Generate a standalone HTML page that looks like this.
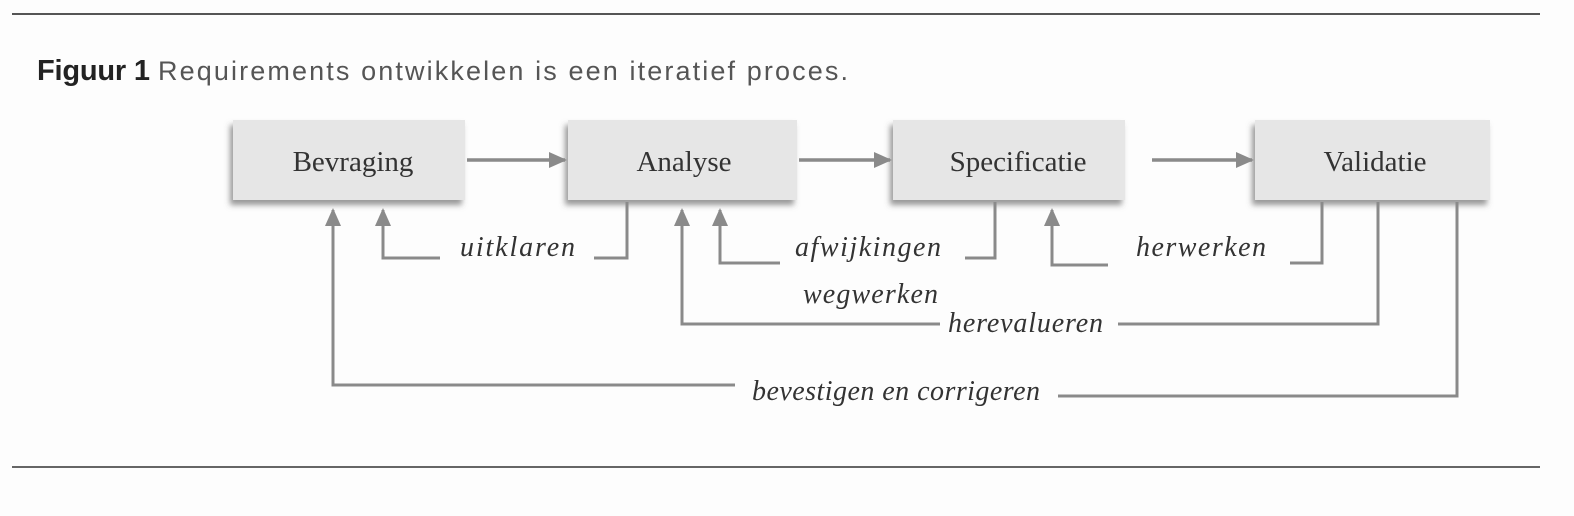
<!DOCTYPE html>
<html><head><meta charset="utf-8"><style>
html,body{margin:0;padding:0;background:#fdfdfd;width:1574px;height:516px;overflow:hidden}
</style></head><body>
<svg width="1574" height="516" xmlns="http://www.w3.org/2000/svg">
<defs>
<filter id="sh" x="-10%" y="-10%" width="130%" height="140%"><feDropShadow dx="-3" dy="5" stdDeviation="3" flood-color="#555" flood-opacity="0.6"/></filter>
<marker id="ah" markerWidth="18" markerHeight="16" refX="16" refY="8" orient="auto" markerUnits="userSpaceOnUse"><path d="M0,0 L18,8 L0,16 z" fill="#8a8a8a"/></marker>
</defs>
<line x1="12" y1="14" x2="1540" y2="14" stroke="#555" stroke-width="2"/>
<line x1="12" y1="467" x2="1540" y2="467" stroke="#666" stroke-width="2"/>
<text x="37" y="80" font-family="Liberation Sans, sans-serif" font-weight="bold" font-size="29" fill="#222" textLength="113">Figuur 1</text>
<text x="158" y="80" font-family="Liberation Sans, sans-serif" font-size="27" fill="#555" textLength="690">Requirements ontwikkelen is een iteratief proces.</text>
<g fill="#e6e6e6" filter="url(#sh)">
<rect x="233" y="120" width="232" height="80"/>
<rect x="568" y="120" width="229" height="80"/>
<rect x="893" y="120" width="232" height="80"/>
<rect x="1255" y="120" width="235" height="80"/>
</g>
<g font-family="Liberation Serif, serif" font-size="29" fill="#333" text-anchor="middle">
<text x="353" y="171">Bevraging</text>
<text x="684" y="171">Analyse</text>
<text x="1018" y="171">Specificatie</text>
<text x="1375" y="171">Validatie</text>
</g>
<g stroke="#8a8a8a" stroke-width="3.5" fill="none">
<line x1="467" y1="160" x2="565" y2="160" marker-end="url(#ah)"/>
<line x1="799" y1="160" x2="890" y2="160" marker-end="url(#ah)"/>
<line x1="1152" y1="160" x2="1252" y2="160" marker-end="url(#ah)"/>
</g>
<g stroke="#8a8a8a" stroke-width="3" fill="none">
<polyline points="627,202 627,258 594,258"/>
<polyline points="440,258 383,258 383,210" marker-end="url(#ah)"/>
<polyline points="995,202 995,258 965,258"/>
<polyline points="780,263 720,263 720,210" marker-end="url(#ah)"/>
<polyline points="1322,202 1322,263 1290,263"/>
<polyline points="1108,265 1052,265 1052,210" marker-end="url(#ah)"/>
<polyline points="1378,202 1378,324 1118,324"/>
<polyline points="940,324 682,324 682,210" marker-end="url(#ah)"/>
<polyline points="1457,202 1457,396 1058,396"/>
<polyline points="735,385 333,385 333,210" marker-end="url(#ah)"/>
</g>
<g font-family="Liberation Serif, serif" font-style="italic" font-size="28" fill="#333">
<text x="460" y="256" textLength="115">uitklaren</text>
<text x="795" y="256" textLength="146">afwijkingen</text>
<text x="803" y="303" textLength="135">wegwerken</text>
<text x="1136" y="256" textLength="130">herwerken</text>
<text x="948" y="332" textLength="155">herevalueren</text>
<text x="752" y="400" textLength="288">bevestigen en corrigeren</text>
</g>
</svg>
</body></html>
